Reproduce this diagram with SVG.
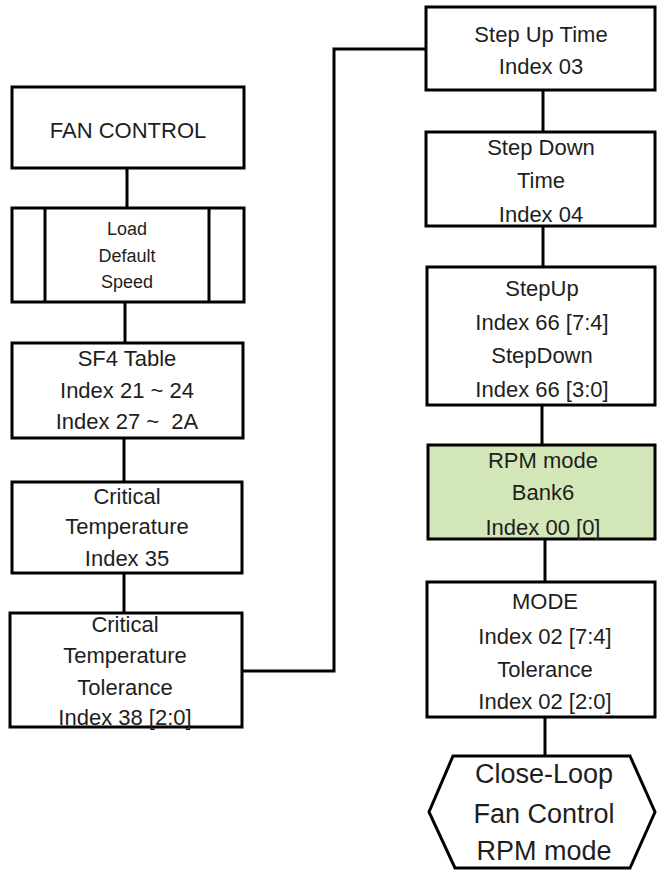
<svg xmlns="http://www.w3.org/2000/svg" width="657" height="871" viewBox="0 0 657 871">
<style>
.b{fill:#fff;stroke:#000;stroke-width:3}
.g{fill:#d4e7b9;stroke:#000;stroke-width:3}
.c{fill:none;stroke:#000;stroke-width:3}
text{font-family:"Liberation Sans",Arial,sans-serif;font-size:22px;fill:#1e1e1e;text-anchor:middle}
.s{font-size:18px}
.h{font-size:27px}
</style>
<rect width="657" height="871" fill="#fff"/>
<g id="connectors">
<line class="c" x1="127" y1="168" x2="127" y2="208"/>
<line class="c" x1="125" y1="302" x2="125" y2="343"/>
<line class="c" x1="124" y1="438" x2="124" y2="482"/>
<line class="c" x1="124" y1="573" x2="124" y2="613"/>
<polyline class="c" points="242,671 334,671 334,49 426,49"/>
<line class="c" x1="543" y1="90" x2="543" y2="132"/>
<line class="c" x1="543" y1="226" x2="543" y2="267"/>
<line class="c" x1="542" y1="405" x2="542" y2="445"/>
<line class="c" x1="545" y1="539" x2="545" y2="582"/>
<line class="c" x1="545" y1="717" x2="545" y2="756"/>
</g>
<g id="fan-control">
<rect class="b" x="12" y="87" width="232" height="81"/>
<text x="128" y="138">FAN CONTROL</text>
</g>
<g id="load-default-speed">
<rect class="b" x="12" y="208" width="232" height="94"/>
<line class="c" x1="45" y1="208" x2="45" y2="302"/>
<line class="c" x1="209" y1="208" x2="209" y2="302"/>
<text class="s" x="127" y="235">Load</text>
<text class="s" x="127" y="262">Default</text>
<text class="s" x="127" y="288">Speed</text>
</g>
<g id="sf4-table">
<rect class="b" x="12" y="343" width="231" height="95"/>
<text x="127" y="366">SF4 Table</text>
<text x="127" y="398">Index 21 ~ 24</text>
<text x="127" y="429" xml:space="preserve">Index 27 ~  2A</text>
</g>
<g id="critical-temperature">
<rect class="b" x="12" y="482" width="230" height="91"/>
<text x="127" y="504">Critical</text>
<text x="127" y="534">Temperature</text>
<text x="127" y="566">Index 35</text>
</g>
<g id="critical-temperature-tolerance">
<rect class="b" x="10" y="613" width="232" height="114"/>
<text x="125" y="632">Critical</text>
<text x="125" y="663">Temperature</text>
<text x="125" y="695">Tolerance</text>
<text x="125" y="725">Index 38 [2:0]</text>
</g>
<g id="step-up-time">
<rect class="b" x="426" y="7" width="229" height="83"/>
<text x="541" y="42">Step Up Time</text>
<text x="541" y="74">Index 03</text>
</g>
<g id="step-down-time">
<rect class="b" x="426" y="132" width="229" height="94"/>
<text x="541" y="155">Step Down</text>
<text x="541" y="188">Time</text>
<text x="541" y="222">Index 04</text>
</g>
<g id="stepup-stepdown">
<rect class="b" x="427" y="267" width="228" height="138"/>
<text x="542" y="296">StepUp</text>
<text x="542" y="330">Index 66 [7:4]</text>
<text x="542" y="363">StepDown</text>
<text x="542" y="397">Index 66 [3:0]</text>
</g>
<g id="rpm-mode">
<rect class="g" x="428" y="445" width="227" height="94"/>
<text x="543" y="468">RPM mode</text>
<text x="543" y="500">Bank6</text>
<text x="543" y="535">Index 00 [0]</text>
</g>
<g id="mode-tolerance">
<rect class="b" x="427" y="582" width="228" height="135"/>
<text x="545" y="609">MODE</text>
<text x="545" y="644">Index 02 [7:4]</text>
<text x="545" y="677">Tolerance</text>
<text x="545" y="709">Index 02 [2:0]</text>
</g>
<g id="close-loop">
<polygon class="b" points="453,756 630,756 655,812 630,868 455,868 429,812"/>
<text class="h" x="544" y="783">Close-Loop</text>
<text class="h" x="544" y="823">Fan Control</text>
<text class="h" x="544" y="860">RPM mode</text>
</g>
</svg>
